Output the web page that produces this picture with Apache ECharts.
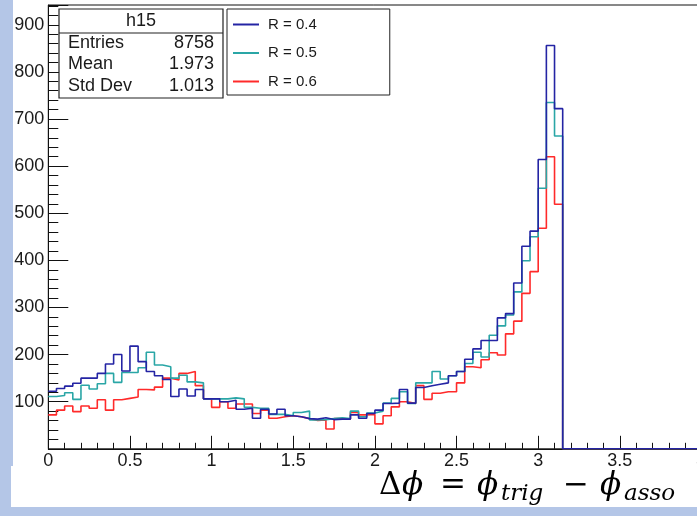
<!DOCTYPE html>
<html>
<head>
<meta charset="utf-8">
<script src="https://cdn.jsdelivr.net/npm/echarts@6/dist/echarts.min.js"></script>
<style>
  html, body { margin: 0; padding: 0; background: #ffffff; }
  #chart { width: 697px; height: 516px; }
</style>
</head>
<body>
<div id="chart"></div>
<script>
// Histogram: bins of width 0.05 in delta-phi starting at 0
const binWidth = 0.05;
const xMin = 0;
const xMax = 4;
const yMin = 0;
const yMax = 942;

const seriesNames = ['R = 0.4', 'R = 0.5', 'R = 0.6'];

const countsR04 = [122, 128, 133, 139, 150, 150, 160, 180, 200, 165,
                   218, 185, 164, 155, 147, 111, 127, 112, 126, 106,
                   106, 100, 103, 84, 86, 65, 84, 74, 84, 70,
                   68, 64, 63, 66, 62, 63, 63, 72, 65, 75,
                   82, 96, 97, 126, 97, 130, 134, 137, 140, 155,
                   164, 190, 212, 230, 230, 278, 287, 352, 430, 462,
                   614, 856, 722];

const countsR05 = [111, 113, 119, 105, 135, 127, 138, 160, 141, 162,
                   162, 172, 205, 178, 174, 150, 156, 142, 140, 106,
                   106, 106, 108, 106, 88, 86, 86, 73, 73, 70,
                   77, 80, 61, 62, 64, 66, 64, 80, 68, 76,
                   80, 97, 107, 121, 96, 140, 140, 164, 148, 155,
                   164, 181, 205, 195, 241, 261, 284, 333, 399, 450,
                   553, 735, 664];

const countsR06 = [72, 82, 91, 79, 91, 86, 104, 82, 104, 107,
                   110, 126, 125, 131, 150, 146, 160, 164, 134, 106,
                   88, 100, 86, 95, 95, 75, 82, 65, 68, 70,
                   68, 64, 60, 61, 42, 64, 63, 77, 72, 73,
                   53, 70, 89, 100, 96, 134, 105, 118, 121, 121,
                   140, 174, 172, 189, 204, 199, 244, 271, 330, 376,
                   468, 620, 519];

const colors = ['#2424a4', '#2aa6a6', '#ff2a2a'];

const statsTitle = 'h15';
const statsLabels = ['Entries', 'Mean', 'Std Dev'];
const statsValues = ['8758', '1.973', '1.013'];

// axis title pieces: [text, italic, subscript]
const titlePieces = [
  ['Δ', false, false], ['ϕ', true, false], ['=', false, false], ['ϕ', true, false],
  ['trig', true, true], ['−', false, false], ['ϕ', true, false], ['asso', true, true]
];
const titleX = [379, 402, 440, 477, 501, 563, 600, 624];

function histData(vals) {
  const d = vals.map((v, i) => [xMin + i * binWidth, v]);
  d.push([xMin + vals.length * binWidth, 0]);
  d.push([xMax, 0]);
  return d;
}

const chart = echarts.init(document.getElementById('chart'), null, { renderer: 'canvas' });

const font = 'Liberation Sans, Arial, sans-serif';
const band = '#b4c6e7';

const statsTexts = [];
statsLabels.forEach((lab, i) => {
  statsTexts.push({ type: 'text', z: 110, style: { x: 68, y: 43 + i * 21.5, text: lab, font: '18px ' + font, fill: '#1a1a1a', verticalAlign: 'middle', align: 'left' } });
  statsTexts.push({ type: 'text', z: 110, style: { x: 214, y: 43 + i * 21.5, text: statsValues[i], font: '18px ' + font, fill: '#1a1a1a', verticalAlign: 'middle', align: 'right' } });
});

const titleTexts = titlePieces.map((p, i) => ({
  type: 'text', z: 110,
  style: {
    x: titleX[i], y: p[2] ? 494.5 : 486, align: 'left', verticalAlign: 'middle',
    text: p[0],
    font: (p[1] ? 'italic ' : '') + (p[2] ? '23px' : '31px') + ' "DejaVu Serif", serif',
    fill: '#000'
  }
}));

const option = {
  animation: false,
  backgroundColor: '#ffffff',
  grid: { left: 48.3, top: 5, width: 653.2, height: 443.8, show: true, borderColor: '#111', borderWidth: 1, backgroundColor: '#fff', outerBoundsMode: 'none', containLabel: false },
  legend: {
    left: 227, top: 9, orient: 'vertical',
    data: seriesNames,
    itemWidth: 26, itemHeight: 14, itemGap: 13.5,
    padding: [8, 73, 6, 5],
    borderColor: '#222', borderWidth: 1, backgroundColor: '#fff',
    itemStyle: { opacity: 0 },
    textStyle: { fontFamily: font, fontSize: 15, color: '#1a1a1a', padding: [0, 0, 0, 4] },
    z: 50
  },
  xAxis: {
    type: 'value', min: xMin, max: xMax, interval: 0.5,
    axisLine: { show: true, onZero: false, lineStyle: { color: '#111', width: 1 } },
    axisTick: { show: true, inside: true, length: 13, lineStyle: { color: '#111', width: 1 } },
    minorTick: { show: true, splitNumber: 5, length: 6, lineStyle: { color: '#111', width: 1 } },
    splitLine: { show: false },
    axisLabel: { fontFamily: font, fontSize: 18, color: '#1a1a1a', margin: 3 }
  },
  yAxis: {
    type: 'value', min: yMin, max: yMax, interval: 100,
    axisLine: { show: true, lineStyle: { color: '#111', width: 1 } },
    axisTick: { show: true, inside: true, length: 20, lineStyle: { color: '#111', width: 1 } },
    minorTick: { show: true, splitNumber: 5, length: 10, lineStyle: { color: '#111', width: 1 } },
    splitLine: { show: false },
    axisLabel: { fontFamily: font, fontSize: 18, color: '#1a1a1a', margin: 4, showMaxLabel: false, showMinLabel: false }
  },
  series: [
    { name: seriesNames[2], type: 'line', step: 'end', symbol: 'none', data: histData(countsR06), lineStyle: { color: colors[2], width: 1.6 }, itemStyle: { color: colors[2] }, z: 2 },
    { name: seriesNames[1], type: 'line', step: 'end', symbol: 'none', data: histData(countsR05), lineStyle: { color: colors[1], width: 1.6 }, itemStyle: { color: colors[1] }, z: 3 },
    { name: seriesNames[0], type: 'line', step: 'end', symbol: 'none', data: histData(countsR04), lineStyle: { color: colors[0], width: 1.6 }, itemStyle: { color: colors[0] }, z: 4 }
  ],
  graphic: [
    { type: 'rect', z: 100, shape: { x: 0, y: 0, width: 13, height: 466 }, style: { fill: band } },
    { type: 'rect', z: 100, shape: { x: 11, y: 466, width: 686, height: 41 }, style: { fill: '#ffffff' } },
    { type: 'rect', z: 100, shape: { x: 0, y: 466, width: 11, height: 41 }, style: { fill: band } },
    { type: 'rect', z: 100, shape: { x: 0, y: 507, width: 697, height: 9 }, style: { fill: band } },
    { type: 'rect', z: 105, shape: { x: 59, y: 9, width: 164, height: 89 }, style: { fill: '#ffffff', stroke: '#222', lineWidth: 1.2 } },
    { type: 'line', z: 106, shape: { x1: 59, y1: 33, x2: 223, y2: 33 }, style: { stroke: '#222', lineWidth: 1.2 } },
    { type: 'text', z: 110, style: { x: 141, y: 21, text: statsTitle, font: '18px ' + font, fill: '#1a1a1a', align: 'center', verticalAlign: 'middle' } },
    ...statsTexts,
    ...titleTexts
  ]
};

chart.setOption(option);
</script>
</body>
</html>
